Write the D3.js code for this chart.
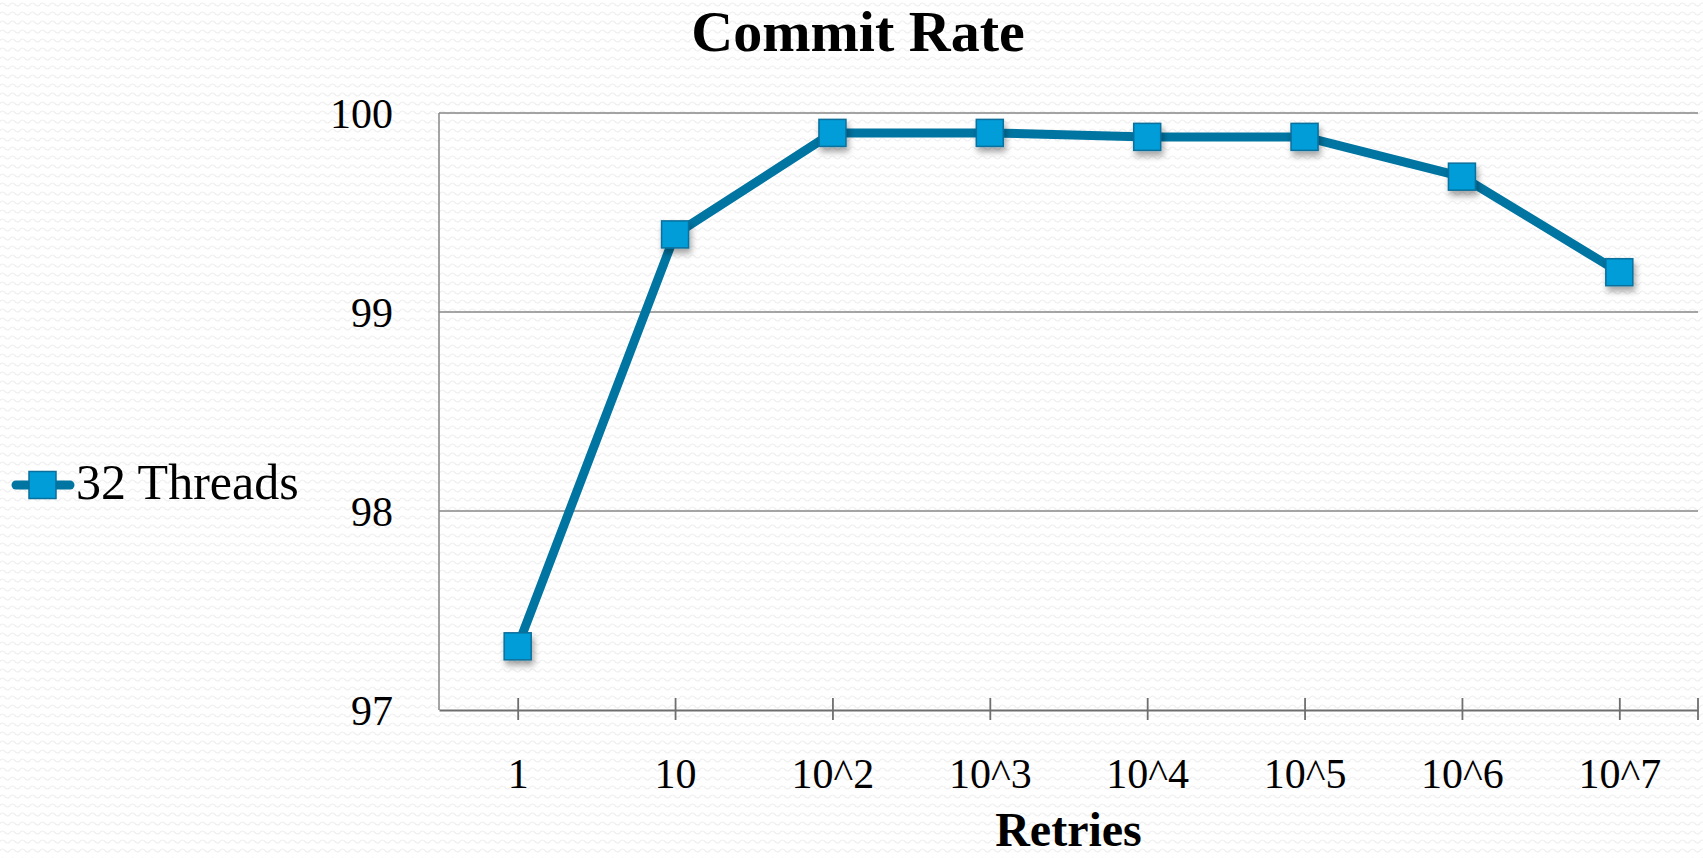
<!DOCTYPE html>
<html>
<head>
<meta charset="utf-8">
<script src="https://cdn.jsdelivr.net/npm/d3@7"></script>
<style>
  html, body { margin: 0; padding: 0; background: #ffffff; }
  svg { display: block; }
  text { font-family: "Liberation Serif", "DejaVu Serif", serif; fill: #000; }
</style>
</head>
<body>
<svg id="chart" width="1703" height="858"></svg>
<script>
// ---- data ----
const categories = ["1", "10", "10^2", "10^3", "10^4", "10^5", "10^6", "10^7"];
const seriesName = "32 Threads";
const commitRate = [97.32, 99.39, 99.90, 99.90, 99.88, 99.88, 99.68, 99.20];
const yTicks = [97, 98, 99, 100];
const titleText = "Commit Rate";
const xTitle = "Retries";

// ---- layout ----
const W = 1703, H = 858;
const plot = { left: 439, right: 1698, top: 113, bottom: 710 };
const lineColor = "#0075a2";
const markerFill = "#009dd8";
const markerStroke = "#0a6f9c";
const markerSize = 27;

const svg = d3.select("#chart");
const defs = svg.append("defs");

// subtle wavy background texture
const pat = defs.append("pattern")
  .attr("id", "waves").attr("patternUnits", "userSpaceOnUse")
  .attr("width", 10).attr("height", 9);
pat.append("path")
  .attr("d", "M0,4.5 Q2.5,1.5 5,4.5 T10,4.5")
  .attr("fill", "none").attr("stroke", "#efefef").attr("stroke-width", 1.2);

const shadow = defs.append("filter").attr("id", "shadow")
  .attr("x", "-50%").attr("y", "-50%").attr("width", "200%").attr("height", "200%");
shadow.append("feDropShadow").attr("dx", 2).attr("dy", 5).attr("stdDeviation", 3)
  .attr("flood-color", "#000").attr("flood-opacity", 0.35);

svg.append("rect").attr("width", W).attr("height", H).attr("fill", "#ffffff");
svg.append("rect").attr("width", W).attr("height", H).attr("fill", "url(#waves)");

// ---- scales ----
const x = d3.scalePoint().domain(categories).range([plot.left, plot.right]).padding(0.5);
const y = d3.scaleLinear().domain([97, 100]).range([plot.bottom, plot.top]);

// gridlines
svg.append("g").selectAll("line").data(yTicks.filter(d => d !== 97)).join("line")
  .attr("x1", plot.left).attr("x2", plot.right)
  .attr("y1", d => y(d)).attr("y2", d => y(d))
  .attr("stroke", "#878787").attr("stroke-width", 1.5);

// y axis line
svg.append("line")
  .attr("x1", plot.left).attr("x2", plot.left)
  .attr("y1", plot.top).attr("y2", plot.bottom)
  .attr("stroke", "#878787").attr("stroke-width", 1.5);

// y labels
const yAxis = svg.append("g").attr("transform", `translate(${plot.left},0)`)
  .call(d3.axisLeft(y).tickValues(yTicks).tickSize(0).tickPadding(46).tickFormat(d3.format("d")));
yAxis.select(".domain").remove();
yAxis.selectAll("text")
  .attr("dy", "0.35em")
  .style("font-family", '"Liberation Serif", serif')
  .style("font-size", "42px").attr("fill", "#000");

// x axis
const xAxis = svg.append("g").attr("transform", `translate(0,${plot.bottom})`)
  .call(d3.axisBottom(x).tickSizeInner(10).tickSizeOuter(0).tickPadding(40));
xAxis.select(".domain").attr("stroke", "#6f6f6f").attr("stroke-width", 2.2);
xAxis.selectAll(".tick line").attr("y1", -12).attr("y2", 10)
  .attr("stroke", "#6f6f6f").attr("stroke-width", 1.8);
xAxis.selectAll("text")
  .style("font-family", '"Liberation Serif", serif')
  .style("font-size", "42px").attr("fill", "#000").attr("dy", "0.71em").attr("y", 48);
// end tick at right edge
xAxis.append("line").attr("x1", plot.right).attr("x2", plot.right)
  .attr("y1", -12).attr("y2", 10).attr("stroke", "#6f6f6f").attr("stroke-width", 1.8);

// series line
const pts = categories.map((c, i) => ({ c, v: commitRate[i] }));
svg.append("path").datum(pts)
  .attr("d", d3.line().x(d => x(d.c)).y(d => y(d.v)))
  .attr("fill", "none").attr("stroke", lineColor).attr("stroke-width", 9)
  .attr("stroke-linejoin", "round");

// markers
svg.append("g").selectAll("rect").data(pts).join("rect")
  .attr("x", d => x(d.c) - markerSize / 2).attr("y", d => y(d.v) - markerSize / 2)
  .attr("width", markerSize).attr("height", markerSize)
  .attr("fill", markerFill).attr("stroke", markerStroke).attr("stroke-width", 1.5)
  .attr("filter", "url(#shadow)");

// title
svg.append("text").attr("x", 858).attr("y", 51).attr("text-anchor", "middle")
  .style("font-size", "58px").style("font-weight", "bold").text(titleText);

// x-axis title
svg.append("text").attr("x", (plot.left + plot.right) / 2).attr("y", 846).attr("text-anchor", "middle")
  .style("font-size", "48px").style("font-weight", "bold").text(xTitle);

// legend
const lg = svg.append("g");
lg.append("line").attr("x1", 16).attr("x2", 70).attr("y1", 485).attr("y2", 485)
  .attr("stroke", lineColor).attr("stroke-width", 9).attr("stroke-linecap", "round");
lg.append("rect").attr("x", 42.5 - markerSize / 2).attr("y", 485 - markerSize / 2)
  .attr("width", markerSize).attr("height", markerSize)
  .attr("fill", markerFill).attr("stroke", markerStroke).attr("stroke-width", 1.5);
lg.append("text").attr("x", 76).attr("y", 499).style("font-size", "50px").text(seriesName);
</script>
</body>
</html>
